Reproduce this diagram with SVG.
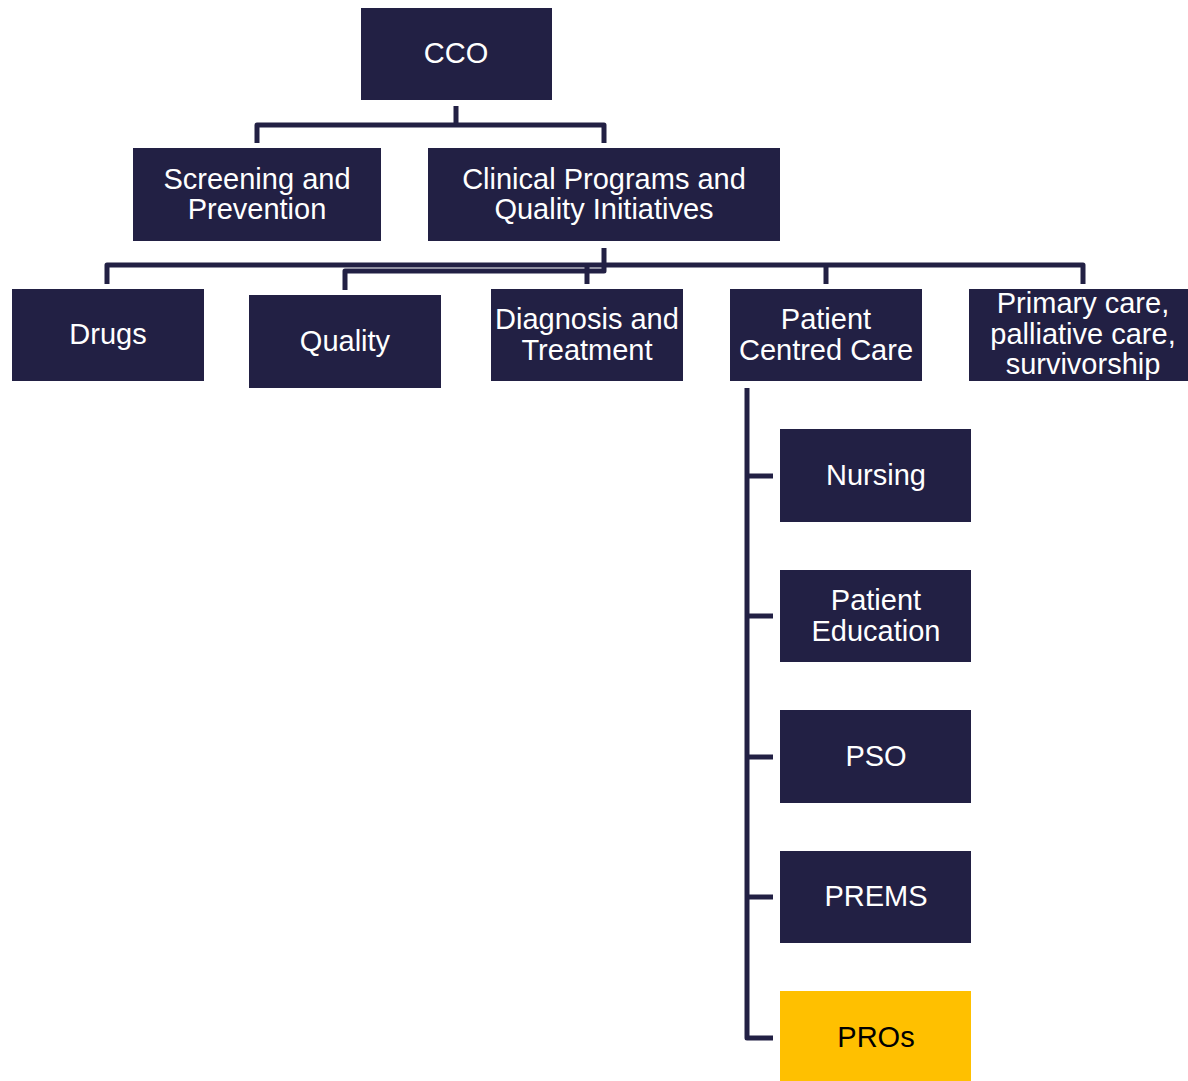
<svg xmlns="http://www.w3.org/2000/svg" width="1188" height="1081" viewBox="0 0 1188 1081">
<style>
.box{fill:#222044}
.hl{fill:#FFC000}
.t{font-family:"Liberation Sans",Arial,sans-serif;font-size:29px;fill:#ffffff;text-anchor:middle}
.tk{fill:#000000}
.c{fill:none;stroke:#222044;stroke-width:5;stroke-linejoin:round;stroke-linecap:butt}
</style>
<rect width="1188" height="1081" fill="#ffffff"/>
<g id="connectors">
<path class="c" d="M456 106V125M257 143V125H604V143"/>
<path class="c" d="M604 248V265M107 284V265H1083V284M587 284V265M826 284V265"/>
<path class="c" d="M604 265V271H345V290"/>
<path class="c" d="M747 388V1038H773M747 476H773M747 616H773M747 757H773M747 897H773"/>
</g>
<g id="cco"><rect class="box" x="361" y="8" width="191" height="92"/><text class="t" x="456" y="63">CCO</text></g>
<g id="screening"><rect class="box" x="133" y="148" width="248" height="93"/><text class="t" x="257" y="189">Screening and</text><text class="t" x="257" y="219">Prevention</text></g>
<g id="clinical"><rect class="box" x="428" y="148" width="352" height="93"/><text class="t" x="604" y="189">Clinical Programs and</text><text class="t" x="604" y="219">Quality Initiatives</text></g>
<g id="drugs"><rect class="box" x="12" y="289" width="192" height="92"/><text class="t" x="108" y="344">Drugs</text></g>
<g id="quality"><rect class="box" x="249" y="295" width="192" height="93"/><text class="t" x="345" y="351">Quality</text></g>
<g id="diagnosis"><rect class="box" x="491" y="289" width="192" height="92"/><text class="t" x="587" y="329">Diagnosis and</text><text class="t" x="587" y="360">Treatment</text></g>
<g id="pcc"><rect class="box" x="730" y="289" width="192" height="92"/><text class="t" x="826" y="329">Patient</text><text class="t" x="826" y="360">Centred Care</text></g>
<g id="primary"><rect class="box" x="969" y="289" width="219" height="92"/><text class="t" x="1083" y="313">Primary care,</text><text class="t" x="1083" y="344">palliative care,</text><text class="t" x="1083" y="374">survivorship</text></g>
<g id="nursing"><rect class="box" x="780" y="429" width="191" height="93"/><text class="t" x="876" y="485">Nursing</text></g>
<g id="education"><rect class="box" x="780" y="570" width="191" height="92"/><text class="t" x="876" y="610">Patient</text><text class="t" x="876" y="641">Education</text></g>
<g id="pso"><rect class="box" x="780" y="710" width="191" height="93"/><text class="t" x="876" y="766">PSO</text></g>
<g id="prems"><rect class="box" x="780" y="851" width="191" height="92"/><text class="t" x="876" y="906">PREMS</text></g>
<g id="pros"><rect class="hl" x="780" y="991" width="191" height="90"/><text class="t tk" x="876" y="1047">PROs</text></g>
</svg>
